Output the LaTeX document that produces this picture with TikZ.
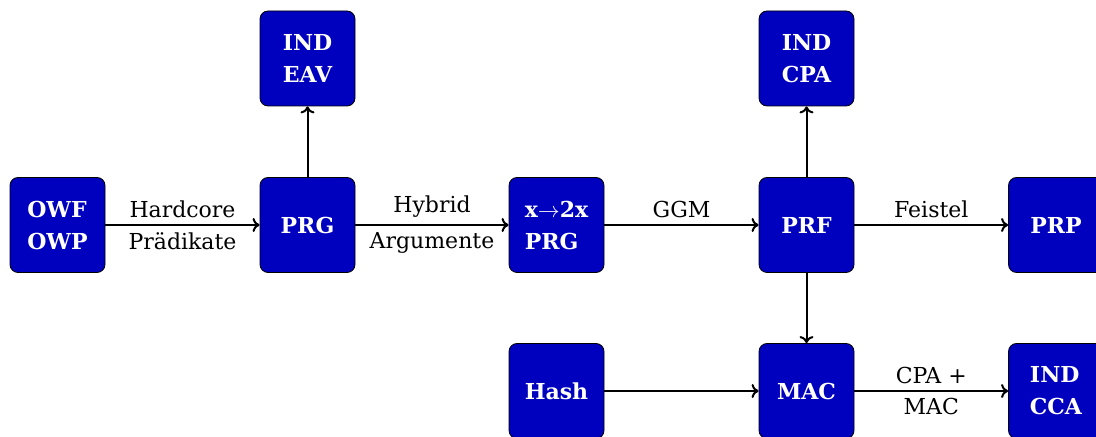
\documentclass[tikz,border=0pt]{standalone}
\usepackage{fontspec}
\setmainfont{DejaVu Serif}
\usetikzlibrary{positioning}
\usetikzlibrary{arrows.meta}
\tikzset{>={To[length=3.5pt,width=7pt]}}
\colorlet{boxblue}{blue!75!black}
\tikzset{
  block/.style={draw, thin, fill=boxblue, text=white, rounded corners=4pt,
    minimum width=47.5pt, minimum height=47.5pt, align=left,
    font=\fontsize{11}{16}\selectfont\bfseries},
  link/.style={->, line width=1pt},
  lbl/.style={font=\fontsize{11}{13}\selectfont}
}

\begin{document}
\begin{tikzpicture}[x=0.5pt,y=-0.5pt]
	\useasboundingbox (0,0) rectangle (1096,437);
	% middle row
	\node [block] (owf) at (57.5,225) {OWF\\OWP};
	\node [block] (prg) at (307.5,225) {PRG};
	\node [block] (prgx) at (556.5,225) {x$\to$2x\\PRG};
	\node [block] (prf) at (806.5,225) {PRF};
	\node [block] (prp) at (1056,225) {PRP};
	% top row
	\node [block] (eav) at (307.5,58.5) {IND\\EAV};
	\node [block] (cpa) at (806.5,58.5) {IND\\CPA};
	% bottom row
	\node [block] (hash) at (556.5,391) {Hash};
	\node [block] (mac) at (806.5,391) {MAC};
	\node [block] (cca) at (1056,391) {IND\\CCA};
	% arrows
	\draw [link] (owf) -- node [lbl,above] {Hardcore} node [lbl,below] {Prädikate} (prg);
	\draw [link] (prg) -- node [lbl,above] {Hybrid} node [lbl,below] {Argumente} (prgx);
	\draw [link] (prgx) -- node [lbl,above] {GGM} (prf);
	\draw [link] (prf) -- node [lbl,above] {Feistel} (prp);
	\draw [link] (prg) -- (eav);
	\draw [link] (prf) -- (cpa);
	\draw [link] (prf) -- (mac);
	\draw [link] (hash) -- (mac);
	\draw [link] (mac) -- node [lbl,above] {CPA +} node [lbl,below] {MAC} (cca);
\end{tikzpicture}
\end{document}
